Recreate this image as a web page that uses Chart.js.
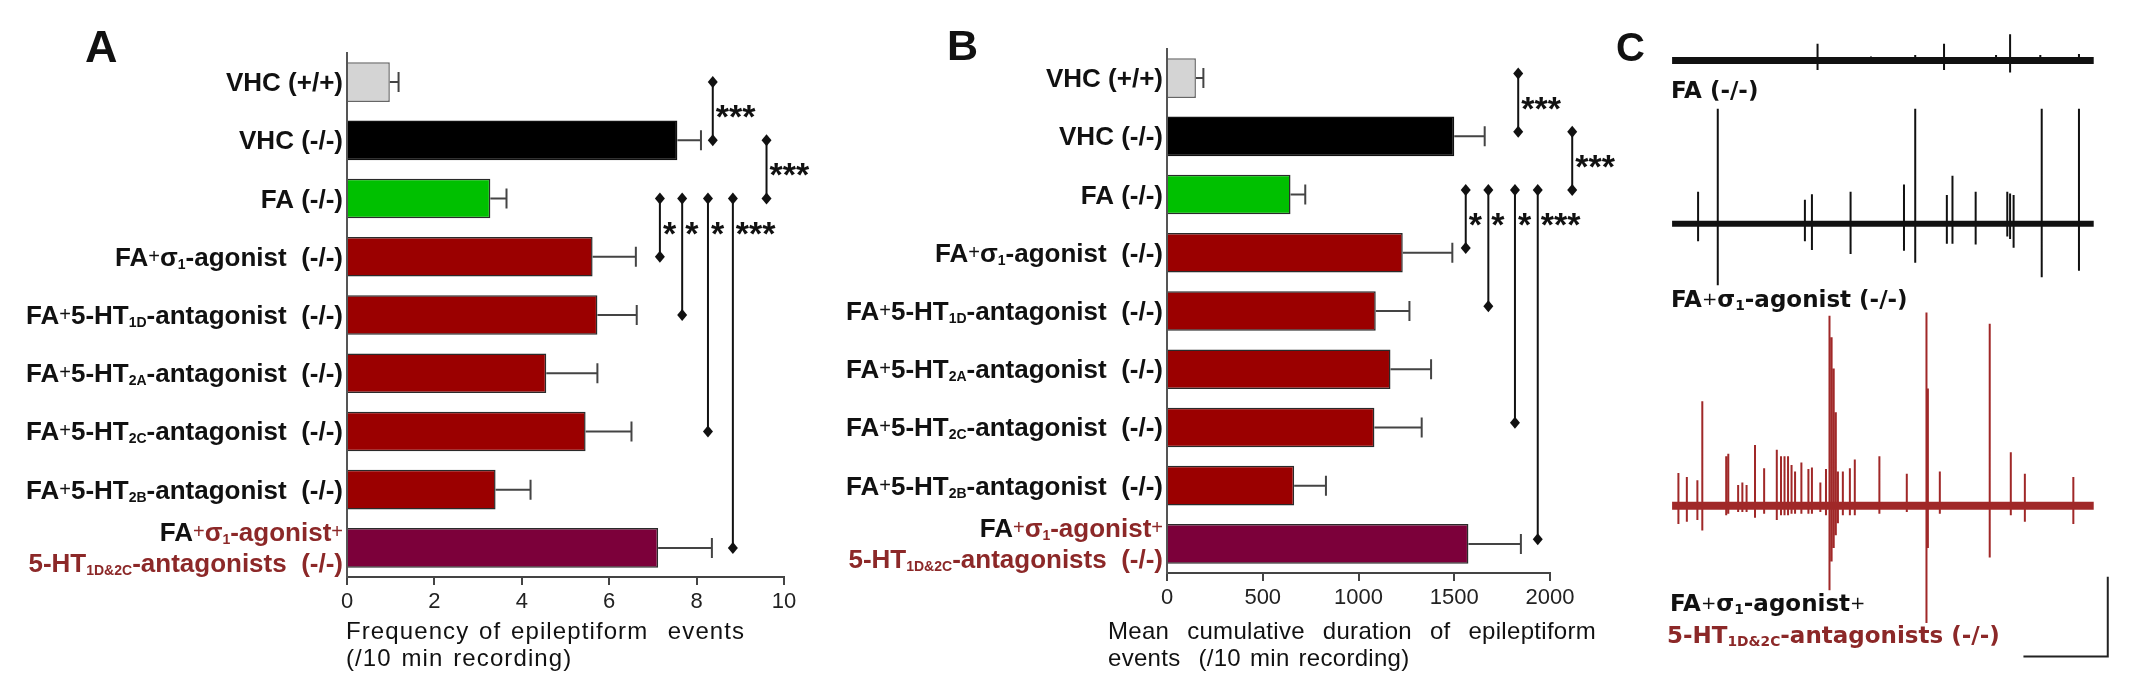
<!DOCTYPE html>
<html>
<head>
<meta charset="utf-8">
<script src="https://cdn.jsdelivr.net/npm/chart.js@4.4.1/dist/chart.umd.min.js"></script>
<style>
  html, body { margin: 0; padding: 0; background: #fff; }
  body { width: 2131px; height: 688px; position: relative; overflow: hidden; font-family: "Liberation Sans", Arial, sans-serif; }
  canvas, .txt { position: absolute; }
  .txt { white-space: pre; line-height: 1; color: #111; }
  .letter { font-weight: bold; }
  .ttl { font-size: 24px; line-height: 27px; word-spacing: 2px; }
  .cl { font-family: "DejaVu Sans", sans-serif; font-weight: bold; font-size: 23px; }
  .cl sub { font-size: 0.6em; vertical-align: baseline; position: relative; top: 0.2em; }
  .cl .p { font-weight: normal; font-size: 0.8em; position: relative; top: -0.1em; }
  .red { color: #8c2828; }
</style>
</head>
<body>
<canvas id="chartA" width="830" height="688" style="left:0px;top:0px"></canvas>
<canvas id="chartB" width="840" height="688" style="left:800px;top:0px"></canvas>
<canvas id="traceFA" width="460" height="70" style="left:1660px;top:20px"></canvas>
<canvas id="traceAgo" width="460" height="205" style="left:1660px;top:95px"></canvas>
<canvas id="traceCombo" width="460" height="370" style="left:1660px;top:300px"></canvas>

<div class="txt letter" style="left:85px;top:24px;font-size:45px">A</div>
<div class="txt letter" style="left:947px;top:24px;font-size:43px">B</div>
<div class="txt letter" style="left:1616px;top:27px;font-size:40px">C</div>

<div class="txt ttl" style="left:346px;top:617px;letter-spacing:1.1px">Frequency of epileptiform  events
(/10 min recording)</div>
<div class="txt ttl" style="left:1108px;top:617px;letter-spacing:0.3px">Mean  cumulative  duration  of  epileptiform
events  (/10 min recording)</div>

<div class="txt cl" style="left:1671px;top:79px">FA (-/-)</div>
<div class="txt cl" style="left:1671px;top:288px">FA<span class="p">+</span>σ<sub>1</sub>-agonist (-/-)</div>
<div class="txt cl" style="left:1670px;top:592px">FA<span class="p">+</span>σ<sub>1</sub>-agonist<span class="p">+</span></div>
<div class="txt cl red" style="left:1667px;top:624px">5-HT<sub>1D&amp;2C</sub>-antagonists (-/-)</div>

<script>
Chart.defaults.font.family = '"Liberation Sans", Arial, sans-serif';
Chart.defaults.color = '#222';

// groups (markup: _{..} subscript, {+} thin plus, |r switch to red)
const groupLabels = [
  'VHC (+/+)',
  'VHC (-/-)',
  'FA (-/-)',
  'FA{+}σ_{1}-agonist  (-/-)',
  'FA{+}5-HT_{1D}-antagonist  (-/-)',
  'FA{+}5-HT_{2A}-antagonist  (-/-)',
  'FA{+}5-HT_{2C}-antagonist  (-/-)',
  'FA{+}5-HT_{2B}-antagonist  (-/-)',
  'FA|r{+}σ_{1}-agonist{+}\n5-HT_{1D&2C}-antagonists  (-/-)'
];

// panel A: frequency of events (/10 min)
const freqMean = [0.98, 7.56, 3.28, 5.62, 5.73, 4.56, 5.46, 3.40, 7.12];
const freqSem = [0.20, 0.54, 0.37, 0.99, 0.90, 1.17, 1.05, 0.80, 1.23];
const freqTicks = [0, 2, 4, 6, 8, 10];

// panel B: mean cumulative duration (/10 min)
const durMean = [151, 1500, 645, 1231, 1090, 1167, 1083, 664, 1574];
const durSem = [39, 159, 77, 259, 176, 212, 247, 166, 274];
const durTicks = [0, 500, 1000, 1500, 2000];

// significance brackets (group index from -> to)
const sigFrom = [0, 1, 2, 2, 2, 2];
const sigTo = [1, 2, 3, 4, 6, 8];
const sigStars = ['***', '***', '*', '*', '*', '***'];
const freqSigX = [8.37, 9.6, 7.16, 7.67, 8.26, 8.83];
const durSigX = [1834, 2116, 1560, 1678, 1817, 1936];

const barColors = ['#d4d4d4', '#000000', '#00c000', '#9b0000', '#9b0000', '#9b0000', '#9b0000', '#9b0000', '#7c003a'];
const barBorders = ['#666666', '#111111', '#2a2a2a', '#2a2a2a', '#2a2a2a', '#2a2a2a', '#2a2a2a', '#2a2a2a', '#2a2a2a'];

// panel C: spikes of the traces (time s, amplitude up / down, scale bar = 1 unit)
const recording = [0, 600];
const faTimes = [207, 283, 346, 387, 461, 481, 524, 579];
const faUp = [0.21, 0.05, 0.07, 0.21, 0.07, 0.33, 0.07, 0.08];
const faDown = [0.12, 0.03, 0.04, 0.12, 0.04, 0.15, 0.04, 0.04];

const agoTimes = [37, 65, 189, 199, 254, 330, 346, 391, 399, 432, 477, 481, 486, 526, 579];
const agoUp = [0.40, 1.44, 0.30, 0.37, 0.40, 0.49, 1.44, 0.36, 0.60, 0.40, 0.40, 0.38, 0.36, 1.44, 1.44];
const agoDown = [0.22, 0.77, 0.22, 0.33, 0.38, 0.34, 0.49, 0.25, 0.25, 0.26, 0.16, 0.19, 0.30, 0.67, 0.59];

const comboTimes = [9, 21, 36, 43, 77, 80, 94, 100, 106, 118, 131, 149, 155, 160, 165, 170, 175, 184, 194, 199,
  211, 219, 224, 227, 230, 233, 236, 243, 253, 260, 295, 334, 362, 364, 381, 452, 482, 502, 571];
const comboUp = [0.41, 0.36, 0.32, 1.31, 0.62, 0.65, 0.26, 0.29, 0.26, 0.76, 0.47, 0.70, 0.62, 0.62, 0.62, 0.51, 0.43, 0.54, 0.46, 0.48,
  0.29, 0.46, 2.38, 2.11, 1.72, 1.17, 0.43, 0.43, 0.47, 0.58, 0.62, 0.40, 2.42, 1.47, 0.43, 2.28, 0.67, 0.40, 0.36];
const comboDown = [0.23, 0.20, 0.18, 0.31, 0.12, 0.10, 0.08, 0.08, 0.08, 0.15, 0.10, 0.18, 0.12, 0.12, 0.12, 0.10, 0.10, 0.10, 0.10, 0.10,
  0.08, 0.12, 1.06, 0.70, 0.53, 0.37, 0.22, 0.12, 0.12, 0.12, 0.10, 0.08, 1.47, 0.53, 0.10, 0.65, 0.12, 0.20, 0.23];

const scaleBarTime = [500, 620, 620];
const scaleBarAmp = [-1.89, -1.89, -0.89];

const FONT = '"Liberation Sans", Arial, sans-serif';
const RED_TEXT = '#8c2828';

function parseLine(line) {
  const runs = [];
  const re = /_\{([^}]*)\}|\{\+\}|\|r|[^_{|]+/g;
  let m;
  while ((m = re.exec(line))) {
    if (m[1] !== undefined) runs.push({ text: m[1], kind: 'sub' });
    else if (m[0] === '{+}') runs.push({ text: '+', kind: 'plus' });
    else if (m[0] === '|r') runs.push({ kind: 'red' });
    else runs.push({ text: m[0], kind: 'main' });
  }
  return runs;
}

function runFont(kind) {
  if (kind === 'sub') return 'bold 14px ' + FONT;
  if (kind === 'plus') return '20px ' + FONT;
  return 'bold 26px ' + FONT;
}

// category labels with subscripts, drawn right-aligned at the y axis
const labelPlugin = {
  id: 'groupLabels',
  afterDraw(chart) {
    const ctx = chart.ctx;
    const yScale = chart.scales.y;
    const right = chart.chartArea.left - 4;
    ctx.save();
    ctx.textBaseline = 'alphabetic';
    chart.data.labels.forEach((lab, i) => {
      const lines = lab.split('\n');
      const yc = yScale.getPixelForValue(i);
      let color = '#111';
      lines.forEach((ln, k) => {
        const base = yc + 9 + (k - (lines.length - 1) / 2) * 31;
        const runs = parseLine(ln);
        let w = 0;
        runs.forEach(r => {
          if (r.kind === 'red') return;
          ctx.font = runFont(r.kind);
          r.w = ctx.measureText(r.text).width;
          w += r.w;
        });
        let x = right - w;
        runs.forEach(r => {
          if (r.kind === 'red') { color = RED_TEXT; return; }
          ctx.font = runFont(r.kind);
          ctx.fillStyle = color;
          let dy = 0;
          if (r.kind === 'sub') dy = 3;
          if (r.kind === 'plus') dy = -3;
          ctx.fillText(r.text, x, base + dy);
          x += r.w;
        });
      });
    });
    ctx.restore();
  }
};

// SEM whiskers
const errPlugin = {
  id: 'errBars',
  afterDatasetsDraw(chart, args, opts) {
    const ctx = chart.ctx;
    const xs = chart.scales.x;
    const means = chart.data.datasets[0].data;
    const meta = chart.getDatasetMeta(0);
    ctx.save();
    ctx.strokeStyle = '#444';
    ctx.lineWidth = 2;
    meta.data.forEach((bar, i) => {
      const x1 = xs.getPixelForValue(means[i] + opts.sem[i]);
      ctx.beginPath();
      ctx.moveTo(bar.x, bar.y);
      ctx.lineTo(x1, bar.y);
      ctx.moveTo(x1, bar.y - 10);
      ctx.lineTo(x1, bar.y + 10);
      ctx.stroke();
    });
    ctx.restore();
  }
};

// significance brackets with diamond ends and stars
const sigPlugin = {
  id: 'sig',
  afterDatasetsDraw(chart, args, opts) {
    const ctx = chart.ctx;
    const xs = chart.scales.x;
    const ys = chart.scales.y;
    const diamond = (x, y) => {
      ctx.beginPath();
      ctx.moveTo(x, y - 6);
      ctx.lineTo(x + 5, y);
      ctx.lineTo(x, y + 6);
      ctx.lineTo(x - 5, y);
      ctx.closePath();
      ctx.fill();
    };
    ctx.save();
    ctx.strokeStyle = '#111';
    ctx.fillStyle = '#111';
    ctx.lineWidth = 2;
    ctx.font = 'bold 34px ' + FONT;
    ctx.textBaseline = 'alphabetic';
    sigFrom.forEach((f, k) => {
      const x = xs.getPixelForValue(opts.pos[k]);
      const y0 = ys.getPixelForValue(f - opts.shift);
      const y1 = ys.getPixelForValue(sigTo[k] - opts.shift);
      ctx.beginPath();
      ctx.moveTo(x, y0);
      ctx.lineTo(x, y1);
      ctx.stroke();
      diamond(x, y0);
      diamond(x, y1);
      const ys2 = ys.getPixelForValue(f + 0.5 - opts.shift);
      ctx.fillText(sigStars[k], x + 3, ys2 + 17);
    });
    ctx.restore();
  }
};

function makeBarChart(id, means, sem, sigX, ticks, pad, axisH, shift) {
  return new Chart(document.getElementById(id), {
    type: 'bar',
    data: {
      labels: groupLabels,
      datasets: [{
        data: means,
        backgroundColor: barColors,
        borderColor: barBorders,
        borderWidth: 1.5,
        barPercentage: 0.68,
        categoryPercentage: 1
      }]
    },
    options: {
      responsive: false,
      animation: false,
      events: [],
      indexAxis: 'y',
      layout: { padding: { left: pad.left, right: pad.right, top: pad.top, bottom: 0 } },
      plugins: {
        legend: { display: false },
        tooltip: { enabled: false },
        errBars: { sem: sem },
        sig: { pos: sigX, shift: shift }
      },
      scales: {
        x: {
          type: 'linear',
          min: ticks[0],
          max: ticks[ticks.length - 1],
          afterBuildTicks: s => { s.ticks = ticks.map(v => ({ value: v })); },
          ticks: { color: '#222', font: { size: 22 }, padding: 4, callback: v => String(v) },
          grid: { drawOnChartArea: false, drawTicks: true, tickLength: 8, color: '#444', lineWidth: 2 },
          border: { display: true, color: '#444', width: 2 },
          afterFit: s => { s.height = axisH; }
        },
        y: {
          type: 'category',
          ticks: { display: false },
          grid: { display: false, drawTicks: false },
          border: { display: true, color: '#555', width: 2 },
          afterFit: s => { s.width = 0; }
        }
      }
    },
    plugins: [labelPlugin, errPlugin, sigPlugin]
  });
}

makeBarChart('chartA', freqMean, freqSem, freqSigX, freqTicks, { left: 347, right: 46, top: 53 }, 111, 0);
makeBarChart('chartB', durMean, durSem, durSigX, durTicks, { left: 367, right: 90, top: 49 }, 115, 0.08);

function traceChart(id, times, up, down, color, baseWidth, yMin, yMax, extra) {
  const spikes = [];
  times.forEach((t, i) => {
    spikes.push({ x: t, y: 0 }, { x: t, y: up[i] }, { x: t, y: -down[i] }, { x: t, y: 0 });
  });
  const datasets = [
    { data: recording.map(t => ({ x: t, y: 0 })), borderColor: color, borderWidth: baseWidth, showLine: true, pointRadius: 0, borderCapStyle: 'butt' },
    { data: spikes, borderColor: color, borderWidth: 2, showLine: true, pointRadius: 0 }
  ];
  if (extra) datasets.push(extra);
  return new Chart(document.getElementById(id), {
    type: 'scatter',
    data: { datasets: datasets },
    options: {
      responsive: false,
      animation: false,
      events: [],
      layout: { padding: 0 },
      plugins: { legend: { display: false }, tooltip: { enabled: false } },
      elements: { line: { tension: 0 } },
      scales: {
        x: { type: 'linear', display: false, min: -17.2, max: 637.4 },
        y: { type: 'linear', display: false, min: yMin, max: yMax }
      }
    }
  });
}

traceChart('traceFA', faTimes, faUp, faDown, '#111111', 7, -0.37, 0.508);
traceChart('traceAgo', agoTimes, agoUp, agoDown, '#111111', 6, -0.956, 1.613);
traceChart('traceCombo', comboTimes, comboUp, comboDown, '#a02828', 8, -2.059, 2.578, {
  data: scaleBarTime.map((t, i) => ({ x: t, y: scaleBarAmp[i] })),
  borderColor: '#222', borderWidth: 2, showLine: true, pointRadius: 0
});
</script>
</body>
</html>
